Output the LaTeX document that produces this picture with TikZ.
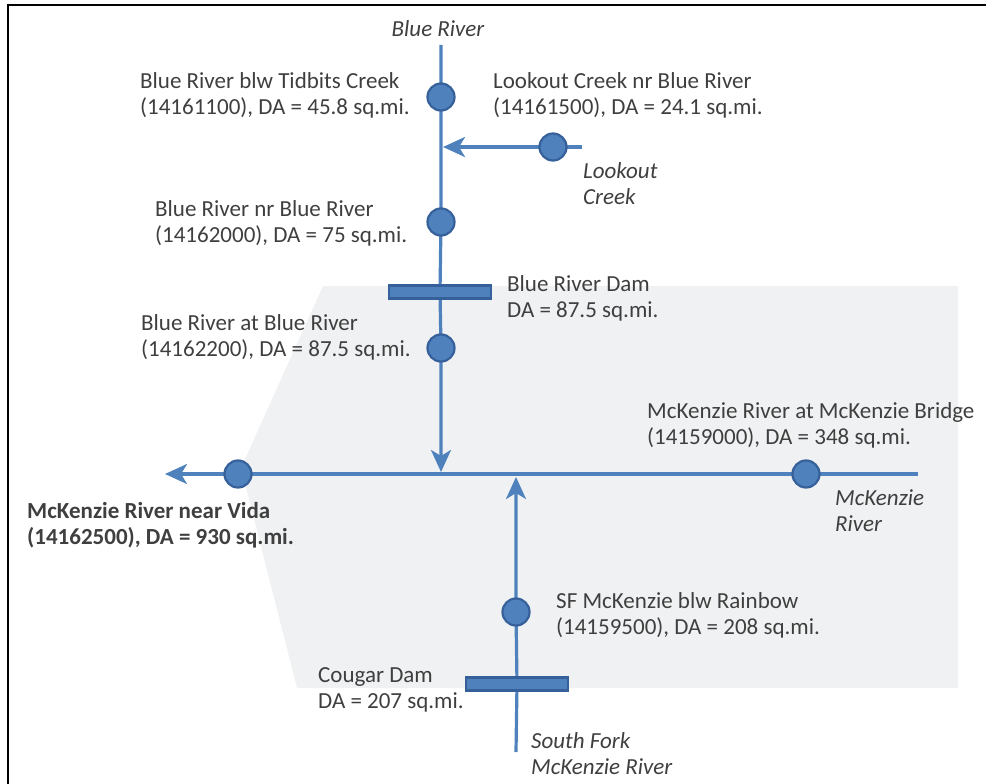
\documentclass[tikz,border=0pt]{standalone}
\usepackage{fontspec}
\setmainfont{Carlito}
\usetikzlibrary{arrows.meta}
\definecolor{riverblue}{HTML}{4F81BD}
\definecolor{edgeblue}{HTML}{36609A}
\definecolor{txtgray}{HTML}{3F3F3F}
\definecolor{areagray}{HTML}{F0F1F2}
\pgfdeclarelayer{bg}
\pgfsetlayers{bg,main}
\begin{document}
\begin{tikzpicture}[x=1pt,y=-1pt,
  river/.style={draw=riverblue, line width=3.2pt},
  flowtip/.style={-{Stealth[length=22pt,width=20pt,inset=6pt]}},
  gauge/.style={circle, fill=riverblue, draw=edgeblue, line width=2.2pt, minimum size=27pt, inner sep=0pt},
  dam/.style={rectangle, fill=riverblue, draw=edgeblue, line width=2.2pt, minimum width=102pt, minimum height=13pt, inner sep=0pt},
  lbl/.style={anchor=north west, align=left, text=txtgray, inner sep=0pt, font=\fontsize{23}{26}\selectfont},
  rivername/.style={lbl, font=\fontsize{23}{26}\selectfont\itshape},
  mainlbl/.style={lbl, font=\fontsize{23}{26}\selectfont\bfseries}
]
\useasboundingbox (0,0) rectangle (986,784);

% gauges and dams
\node[gauge] (g1) at (441,97) {};
\node[gauge] (g2) at (441,222) {};
\node[gauge] (g3) at (441,348) {};
\node[gauge] (glk) at (553,147) {};
\node[gauge] (gvida) at (238,474) {};
\node[gauge] (gbridge) at (806,474) {};
\node[gauge] (gsf) at (516,612) {};
\node[dam] (dam1) at (440,292) {};
\node[dam] (dam2) at (517,684) {};

% free ends and junctions
\coordinate (brtop) at (441,45);
\coordinate (j1) at (441,472);
\coordinate (lkeast) at (582,147);
\coordinate (j0) at (443,147);
\coordinate (mckeast) at (918,474);
\coordinate (j2) at (516,477);
\coordinate (mckwest) at (165,474);
\coordinate (sfsouth) at (516,752);

\begin{pgfonlayer}{bg}
  \fill[areagray] (323,286) -- (958,286) -- (958,688) -- (297,688) -- (241,468) -- cycle;
  \draw[river, flowtip] (brtop) -- (g1.center) -- (g2.center) -- (dam1.center) -- (g3.center) -- (j1);
  \draw[river, flowtip] (lkeast) -- (glk.center) -- (j0);
  \draw[river, flowtip] (mckeast) -- (gbridge.center) -- (gvida.center) -- (mckwest);
  \draw[river, flowtip] (sfsouth) -- (dam2.center) -- (gsf.center) -- (j2);
\end{pgfonlayer}

% frame
\draw[line width=2pt] (8,784) -- (8,5) -- (986,5);

% labels
\node[rivername, anchor=center] (lblue) at (438,29) {Blue River};
\node[lbl] (t1) at (140,72) {Blue River blw Tidbits Creek\\(14161100), DA = 45.8 sq.mi.};
\node[lbl] (t2) at (493,72) {Lookout Creek nr Blue River\\(14161500), DA = 24.1 sq.mi.};
\node[rivername] (llk) at (583,162) {Lookout\\Creek};
\node[lbl] (t3) at (155,200) {Blue River nr Blue River\\(14162000), DA = 75 sq.mi.};
\node[lbl] (t4) at (507,275) {Blue River Dam\\DA = 87.5 sq.mi.};
\node[lbl] (t5) at (141,314) {Blue River at Blue River\\(14162200), DA = 87.5 sq.mi.};
\node[lbl] (t6) at (647,402) {McKenzie River at McKenzie Bridge\\(14159000), DA = 348 sq.mi.};
\node[rivername] (lmck) at (835,489) {McKenzie\\River};
\node[mainlbl] (t7) at (27,502) {McKenzie River near Vida\\(14162500), DA = 930 sq.mi.};
\node[lbl] (t8) at (556,592) {SF McKenzie blw Rainbow\\(14159500), DA = 208 sq.mi.};
\node[lbl] (t9) at (318,667) {Cougar Dam\\DA = 207 sq.mi.};
\node[rivername] (lsf) at (531,732) {South Fork\\McKenzie River};
\end{tikzpicture}
\end{document}
